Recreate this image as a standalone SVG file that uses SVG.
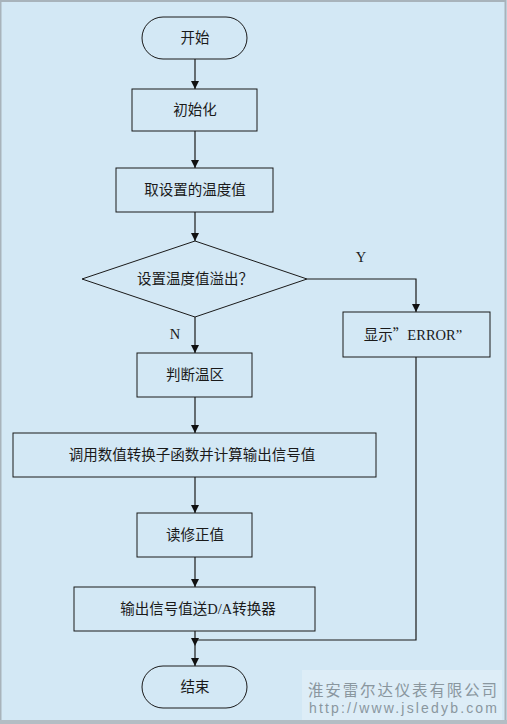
<svg xmlns="http://www.w3.org/2000/svg" width="507" height="724" viewBox="0 0 507 724">
<defs>
<marker id="ah" viewBox="0 0 8 8" refX="8" refY="4" markerWidth="8" markerHeight="8" markerUnits="userSpaceOnUse" orient="auto">
<path d="M0,0 L8,4 L0,8 Z" fill="#111"/>
</marker>
<style>
.bx{fill:none;stroke:#1a1a1a;stroke-width:1}
.ln{fill:none;stroke:#1a1a1a;stroke-width:1.2}
.t{font-family:"Liberation Serif","Noto Sans CJK SC",serif;font-size:14.5px;fill:#1a1a1a;text-anchor:middle}
.cjk{font-family:"Noto Sans CJK SC",sans-serif}
.wm{font-family:"Liberation Sans","Noto Sans CJK SC",sans-serif;fill:#8a979f}
</style>
</defs>
<rect x="0" y="0" width="507" height="724" fill="#d3e8f5"/>
<rect x="0.5" y="1" width="505" height="720" fill="none" stroke="#a8b3bb" stroke-width="2"/>
<rect x="0" y="720" width="507" height="4" fill="#b4bdc4"/>

<g id="connectors">
<line class="ln" x1="195" y1="59" x2="195" y2="89" marker-end="url(#ah)"/>
<line class="ln" x1="195" y1="131" x2="195" y2="168" marker-end="url(#ah)"/>
<line class="ln" x1="195" y1="212" x2="195" y2="241" marker-end="url(#ah)"/>
<polyline class="ln" points="307,279 416,279 416,312" marker-end="url(#ah)"/>
<line class="ln" x1="195" y1="317" x2="195" y2="353" marker-end="url(#ah)"/>
<line class="ln" x1="195" y1="397" x2="195" y2="433" marker-end="url(#ah)"/>
<line class="ln" x1="195" y1="477" x2="195" y2="513" marker-end="url(#ah)"/>
<line class="ln" x1="195" y1="557" x2="195" y2="587" marker-end="url(#ah)"/>
<line class="ln" x1="195" y1="631" x2="195" y2="646" marker-end="url(#ah)"/>
<polyline class="ln" points="416,357 416,640 195,640"/>
<line class="ln" x1="195" y1="646" x2="195" y2="666" marker-end="url(#ah)"/>
<text class="t" x="361" y="262">Y</text>
<text class="t" x="175" y="339">N</text>
</g>

<g id="start">
<rect class="bx" x="142" y="17" width="105" height="42" rx="21" ry="21"/>
<text class="t" x="195" y="43">开始</text>
</g>
<g id="init">
<rect class="bx" x="132" y="89" width="125" height="42"/>
<text class="t" x="195" y="115">初始化</text>
</g>
<g id="gettemp">
<rect class="bx" x="116" y="168" width="157" height="44"/>
<text class="t" x="195" y="195">取设置的温度值</text>
</g>
<g id="decision">
<polygon class="bx" points="195,241 307,279 195,317 82,279"/>
<text class="t" x="195" y="284">设置温度值溢出<tspan class="cjk">？</tspan></text>
</g>
<g id="error">
<rect class="bx" x="343" y="312" width="147" height="45"/>
<text class="t" x="413" y="340">显示<tspan class="cjk">”</tspan>ERROR”</text>
</g>
<g id="zone">
<rect class="bx" x="137" y="353" width="115" height="44"/>
<text class="t" x="195" y="380">判断温区</text>
</g>
<g id="call">
<rect class="bx" x="13" y="433" width="363" height="44"/>
<text class="t" x="192" y="460">调用数值转换子函数并计算输出信号值</text>
</g>
<g id="read">
<rect class="bx" x="137" y="513" width="115" height="44"/>
<text class="t" x="195" y="540">读修正值</text>
</g>
<g id="output">
<rect class="bx" x="74" y="587" width="241" height="44"/>
<text class="t" x="198" y="614">输出信号值送D/A转换器</text>
</g>
<g id="end">
<rect class="bx" x="142" y="666" width="105" height="42" rx="21" ry="21"/>
<text class="t" x="195" y="692">结束</text>
</g>

<g id="watermark">
<rect x="302" y="670" width="200" height="50" fill="#ddedf7"/>
<text class="wm" x="308" y="696" font-size="15.5" textLength="189" lengthAdjust="spacing">淮安雷尔达仪表有限公司</text>
<text class="wm" x="309" y="713" font-size="14" textLength="188" lengthAdjust="spacing">http://www.jsledyb.com</text>
</g>
</svg>
